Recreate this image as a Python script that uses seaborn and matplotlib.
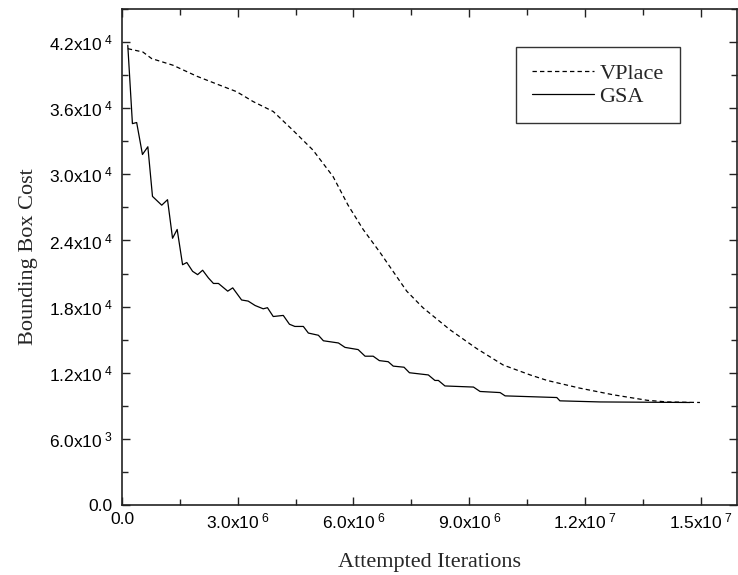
import matplotlib
matplotlib.use("Agg")
import matplotlib.pyplot as plt
import numpy as np
import pandas as pd
import seaborn as sns
from matplotlib.ticker import FuncFormatter, MultipleLocator

# iterations in millions, cost in thousands
vplace_iter = [0.15, 0.54, 0.77, 1.32, 1.94, 2.45, 2.97, 3.40, 3.92, 4.43, 4.95,
               5.47, 5.86, 6.25, 6.69, 7.38, 7.80, 8.50, 9.19, 9.88, 10.58, 11.02,
               11.87, 12.73, 13.61, 14.13, 14.98]
vplace_cost = [41.4, 41.1, 40.5, 39.9, 38.9, 38.2, 37.5, 36.6, 35.7, 34.0, 32.2,
               29.8, 27.2, 25.0, 22.9, 19.4, 17.9, 15.9, 14.2, 12.7, 11.8, 11.3,
               10.6, 10.0, 9.5, 9.35, 9.3]

gsa_iter = [0.15, 0.27, 0.38, 0.53, 0.67, 0.79, 1.03, 1.18, 1.31, 1.43, 1.57,
            1.68, 1.83, 1.96, 2.09, 2.24, 2.37, 2.50, 2.74, 2.87, 3.10, 3.27,
            3.45, 3.66, 3.77, 3.92, 4.18, 4.34, 4.48, 4.70, 4.83, 5.09, 5.22,
            5.61, 5.78, 6.12, 6.30, 6.51, 6.67, 6.90, 7.03, 7.31, 7.45, 7.94,
            8.11, 8.20, 8.37, 9.11, 9.28, 9.80, 9.93, 11.27, 11.35, 12.39, 14.72]
gsa_cost = [41.7, 34.6, 34.7, 31.8, 32.5, 28.0, 27.2, 27.7, 24.2, 25.0, 21.8,
            22.0, 21.2, 20.9, 21.3, 20.6, 20.1, 20.1, 19.4, 19.7, 18.6, 18.5,
            18.1, 17.8, 17.9, 17.1, 17.2, 16.4, 16.2, 16.2, 15.6, 15.4, 14.9,
            14.7, 14.3, 14.1, 13.5, 13.5, 13.1, 13.0, 12.6, 12.5, 12.0, 11.8,
            11.3, 11.3, 10.8, 10.7, 10.3, 10.2, 9.9, 9.75, 9.45, 9.35, 9.3]


def sci(value, pos):
    if value == 0:
        return "0.0"
    exp = int(np.floor(np.log10(abs(value))))
    return f"{value / 10 ** exp:.1f}x10$\\,^{{{exp}}}$"


vplace_df = pd.DataFrame({"iter": np.array(vplace_iter) * 1e6, "cost": np.array(vplace_cost) * 1e3})
gsa_df = pd.DataFrame({"iter": np.array(gsa_iter) * 1e6, "cost": np.array(gsa_cost) * 1e3})

sns.set_theme(style="ticks")
plt.rcParams["font.family"] = ["Liberation Sans", "DejaVu Sans"]
plt.rcParams["mathtext.default"] = "regular"

fig = plt.figure(figsize=(7.38, 5.75), dpi=100)
ax = fig.add_axes([122 / 738, 70 / 575, 615 / 738, 496 / 575])

sns.lineplot(data=vplace_df, x="iter", y="cost", ax=ax, color="black",
             linewidth=0.9, linestyle=(0, (3.5, 2.5)), label="VPlace")
sns.lineplot(data=gsa_df, x="iter", y="cost", ax=ax, color="black",
             linewidth=0.9, label="GSA")

ax.set_xlim(0, 1.594e7)
ax.set_ylim(0, 45000)
ax.xaxis.set_major_locator(MultipleLocator(3e6))
ax.xaxis.set_minor_locator(MultipleLocator(1.5e6))
ax.yaxis.set_major_locator(MultipleLocator(6000))
ax.yaxis.set_minor_locator(MultipleLocator(3000))
ax.xaxis.set_major_formatter(FuncFormatter(sci))
ax.yaxis.set_major_formatter(FuncFormatter(sci))
ax.tick_params(which="both", direction="in", top=True, right=True, colors="#222222",
               labelcolor="black", labelsize=12.5)
ax.tick_params(which="major", length=6, width=1)
ax.tick_params(which="minor", length=4, width=1)
ax.tick_params(axis="y", pad=7)
ax.tick_params(axis="x", pad=5)
for spine in ax.spines.values():
    spine.set_visible(True)
    spine.set_linewidth(1.2)
    spine.set_color("#222222")

ax.set_xlabel("Attempted Iterations", fontfamily="Liberation Serif", fontsize=16, labelpad=15)
ax.set_ylabel("Bounding Box Cost", fontfamily="Liberation Serif", fontsize=16, labelpad=8)

leg = ax.legend(loc="upper right", bbox_to_anchor=(0.907, 0.923), frameon=True,
                fancybox=False, handlelength=2.75, handletextpad=0.27,
                labelspacing=0.12, borderpad=0.72, borderaxespad=0,
                prop={"family": "Liberation Serif", "size": 16})
leg.get_frame().set_edgecolor("black")
leg.get_frame().set_linewidth(1.0)

fig.savefig("out.png", dpi=100)
